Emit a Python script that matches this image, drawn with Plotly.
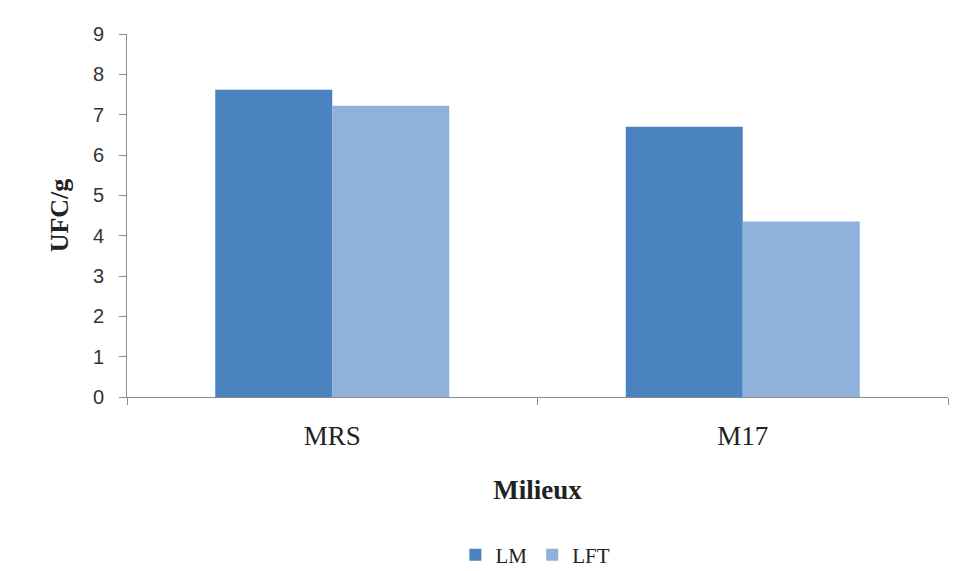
import plotly.graph_objects as go

# Culture media and counts (log UFC/g) for each sample
milieux = ["MRS", "M17"]
lm_values = [7.62, 6.7]
lft_values = [7.22, 4.35]
y_ticks = [0, 1, 2, 3, 4, 5, 6, 7, 8, 9]

serif = "Liberation Serif, Times New Roman, serif"
sans = "Liberation Sans, Arial, sans-serif"

fig = go.Figure()
fig.add_trace(go.Bar(name="LM", x=milieux, y=lm_values,
                     marker=dict(color="#4a83bf", line=dict(width=0))))
fig.add_trace(go.Bar(name="LFT", x=milieux, y=lft_values,
                     marker=dict(color="#8fb1dc", line=dict(width=0))))

fig.update_layout(
    width=961, height=571,
    paper_bgcolor="white", plot_bgcolor="white",
    barmode="group", bargap=0.43, bargroupgap=0,
    margin=dict(l=127, r=13, t=34, b=174, autoexpand=False),
    showlegend=True,
    legend=dict(orientation="h", x=0.4, xanchor="left",
                yref="container", y=0.028, yanchor="middle",
                font=dict(family=serif, size=21, color="#222"),
                itemwidth=30, tracegroupgap=0),
    xaxis=dict(
        automargin=False,
        showline=True, linecolor="#8c8c8c", linewidth=1,
        ticks="outside", tickson="boundaries", ticklen=7, tickcolor="#8c8c8c",
        tickfont=dict(family=serif, size=27, color="#222"),
        ticklabelstandoff=15,
        title=dict(text="<b>Milieux</b>", font=dict(family=serif, size=27, color="#222"),
                   standoff=29),
        showgrid=False,
    ),
    yaxis=dict(
        automargin=False,
        range=[0, 9], tickvals=y_ticks,
        showline=True, linecolor="#8c8c8c", linewidth=1,
        ticks="outside", ticklen=7, tickcolor="#8c8c8c",
        tickfont=dict(family=sans, size=20, color="#333"),
        ticklabelstandoff=11,
        title=dict(text="<b>UFC/g</b>", font=dict(family=serif, size=26, color="#222"),
                   standoff=16),
        showgrid=False, zeroline=False,
    ),
)

fig.write_html("out.html")
